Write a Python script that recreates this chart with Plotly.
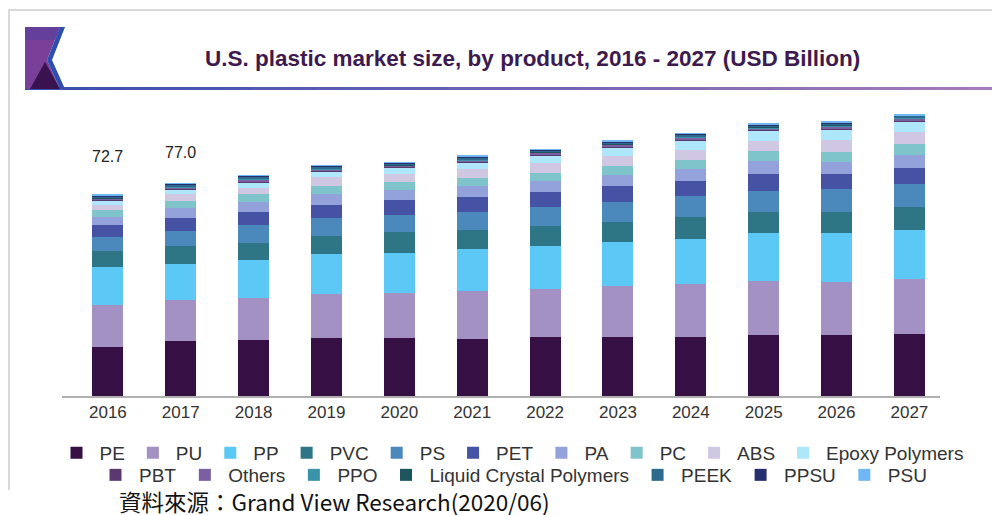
import plotly.graph_objects as go

years = ["2016", "2017", "2018", "2019", "2020", "2021", "2022", "2023", "2024", "2025", "2026", "2027"]

PE = [17.8, 19.8, 20.4, 20.9, 20.8, 20.5, 21.4, 21.4, 21.5, 22.1, 22.1, 22.3]
PU = [15.0, 14.8, 15.2, 15.9, 16.4, 17.5, 17.3, 18.5, 18.9, 19.6, 19.2, 20.0]
PP = [14.0, 13.3, 13.6, 14.4, 14.5, 15.3, 15.7, 15.7, 16.3, 17.3, 17.6, 17.7]
PVC = [5.8, 6.4, 6.3, 6.8, 7.5, 6.8, 7.2, 7.2, 8.0, 7.6, 7.6, 8.2]
PS = [4.8, 5.3, 6.4, 6.4, 6.3, 6.6, 6.6, 7.5, 7.7, 7.7, 8.3, 8.3]
PET = [4.4, 4.7, 4.8, 4.8, 5.3, 5.4, 5.4, 5.6, 5.4, 6.0, 5.4, 5.8]
PA = [2.8, 3.8, 3.5, 3.9, 3.7, 3.9, 4.3, 4.1, 4.2, 4.6, 4.6, 4.8]
PC = [2.7, 2.5, 2.8, 3.0, 3.0, 2.9, 2.9, 3.1, 3.4, 3.6, 3.6, 4.0]
ABS = [1.8, 2.3, 2.4, 3.0, 2.8, 3.1, 3.3, 3.6, 3.6, 3.9, 4.2, 4.2]
EPOXY = [1.6, 1.7, 1.8, 2.1, 2.4, 2.4, 3.0, 3.3, 3.4, 3.6, 3.9, 4.1]
PBT = [0.2, 0.3, 0.3, 0.2, 0.2, 0.3, 0.2, 0.3, 0.3, 0.3, 0.3, 0.3]
OTHERS = [0.5, 0.6, 0.7, 0.6, 0.4, 0.6, 0.6, 0.6, 0.7, 0.6, 0.7, 0.6]
PPO = [0.2, 0.2, 0.3, 0.2, 0.2, 0.2, 0.2, 0.2, 0.3, 0.3, 0.3, 0.3]
LCP = [0.2, 0.2, 0.2, 0.2, 0.2, 0.2, 0.2, 0.2, 0.2, 0.2, 0.3, 0.2]
PEEK = [0.4, 0.5, 0.6, 0.5, 0.4, 0.5, 0.5, 0.5, 0.6, 0.5, 0.6, 0.5]
PPSU = [0.3, 0.3, 0.3, 0.3, 0.2, 0.3, 0.3, 0.3, 0.3, 0.3, 0.3, 0.3]
PSU = [0.2, 0.3, 0.3, 0.2, 0.2, 0.3, 0.2, 0.3, 0.3, 0.3, 0.3, 0.3]

series_names = ["PE", "PU", "PP", "PVC", "PS", "PET", "PA", "PC", "ABS", "Epoxy Polymers",
                "PBT", "Others", "PPO", "Liquid Crystal Polymers", "PEEK", "PPSU", "PSU"]
series_values = [PE, PU, PP, PVC, PS, PET, PA, PC, ABS, EPOXY,
                 PBT, OTHERS, PPO, LCP, PEEK, PPSU, PSU]
colors = ["#360f45", "#a491c4", "#5bc8f5", "#2e7585", "#4b88bb", "#4652a3", "#94a2dc",
          "#7fc3cb", "#d0c8e3", "#aee6fa", "#5a3a6e", "#7b5fa0", "#3a93a8", "#1c5560",
          "#2e6a8e", "#27306f", "#6fb8f5"]

label_years = ["2016", "2017"]
label_texts = ["72.7", "77.0"]

# page body has an 8px margin; figure occupies (8,8)-(1000,515) of the viewport
OFF = 8
W, H = 1000 - OFF, 515 - OFF
def px(x):
    return (x - OFF) / W
def py(y):
    return 1 - (y - OFF) / H

fig = go.Figure()
for i, (name, vals, col) in enumerate(zip(series_names, series_values, colors)):
    fig.add_trace(go.Bar(
        x=years, y=vals, name=name, marker=dict(color=col, line=dict(width=0)),
        legend="legend" if i < 10 else "legend2",
    ))

totals = [sum(s[k] for s in series_values) for k in range(len(years))]
shifts = [38, 31]
for yr, txt, sh in zip(label_years, label_texts, shifts):
    k = years.index(yr)
    fig.add_annotation(x=k, y=totals[k], xref="x", yref="y", text=txt, showarrow=False, yshift=sh,
                       font=dict(family="Liberation Sans, Arial", size=16, color="#222"))

shapes = []
# frame
shapes.append(dict(type="line", xref="paper", yref="paper", x0=px(8), x1=px(1000), y0=py(10), y1=py(10),
                   line=dict(color="#d9d9d9", width=2)))
shapes.append(dict(type="line", xref="paper", yref="paper", x0=px(9), x1=px(9), y0=py(10), y1=py(490),
                   line=dict(color="#d9d9d9", width=2)))
# header gradient line
n = 30
x_start, x_end = 25, 1000
c0 = (58, 79, 176)
c1 = (166, 122, 184)
for i in range(n):
    t = i / (n - 1)
    c = tuple(int(c0[j] + (c1[j] - c0[j]) * t) for j in range(3))
    xa = x_start + (x_end - x_start) * i / n
    xb = x_start + (x_end - x_start) * (i + 1) / n + 1
    shapes.append(dict(type="line", xref="paper", yref="paper", x0=px(xa), x1=px(xb), y0=py(88.5), y1=py(88.5),
                       line=dict(color="rgb(%d,%d,%d)" % c, width=3)))
# logo
def path(points):
    return "M " + " L ".join("%f,%f" % (px(a), py(b)) for a, b in points) + " Z"
shapes.append(dict(type="path", xref="paper", yref="paper", path=path([(25, 27), (60, 27), (47, 60), (60, 89), (25, 89)]),
                   fillcolor="#7a3f98", line=dict(width=0)))
shapes.append(dict(type="path", xref="paper", yref="paper", path=path([(25, 27), (60, 27), (55, 40), (25, 40)]),
                   fillcolor="#653f9c", line=dict(width=0)))
shapes.append(dict(type="path", xref="paper", yref="paper", path=path([(45, 62), (60, 89), (30, 89)]),
                   fillcolor="#3a1250", line=dict(width=0)))
shapes.append(dict(type="path", xref="paper", yref="paper", path=path([(60, 27), (65, 27), (52, 60), (65, 89), (60, 89), (47, 60)]),
                   fillcolor="#2e4fb0", line=dict(width=0)))

legend_font = dict(family="Liberation Sans, Arial", size=19, color="#333")
fig.update_layout(
    width=W, height=H,
    margin=dict(l=0, r=0, t=0, b=0),
    paper_bgcolor="white", plot_bgcolor="white",
    barmode="stack", bargap=0.575,
    shapes=shapes,
    showlegend=True,
    xaxis=dict(domain=[px(62), px(940)], range=[-0.63, 11.42], type="category",
               showline=True, linecolor="#b0b0b0", linewidth=2, showgrid=False, ticks="",
               tickfont=dict(family="Liberation Sans, Arial", size=17, color="#333")),
    yaxis=dict(domain=[py(396), py(100)], range=[0, 107.05], visible=False, showgrid=False),
    legend=dict(orientation="h", x=px(511), y=py(453), xanchor="center", yanchor="middle",
                font=legend_font, itemwidth=36,
                bgcolor="rgba(0,0,0,0)", traceorder="normal"),
    legend2=dict(orientation="h", x=px(512), y=py(475), xanchor="center", yanchor="middle",
                 font=legend_font, itemwidth=37,
                 bgcolor="rgba(0,0,0,0)", traceorder="normal"),
)

fig.add_annotation(xref="paper", yref="paper", x=px(532), y=py(58), xanchor="center", yanchor="middle",
                   text="<b>U.S. plastic market size, by product, 2016 - 2027 (USD Billion)</b>", showarrow=False,
                   font=dict(family="Liberation Sans, Arial", size=22.5, color="#3d1a4f"))
fig.add_annotation(xref="paper", yref="paper", x=px(117), y=py(501), xanchor="left", yanchor="middle",
                   text="資料來源：Grand View Research(2020/06)", showarrow=False,
                   font=dict(family="Noto Sans CJK TC, Noto Sans", size=22.5, color="#111"))

fig.write_html("out.html")
